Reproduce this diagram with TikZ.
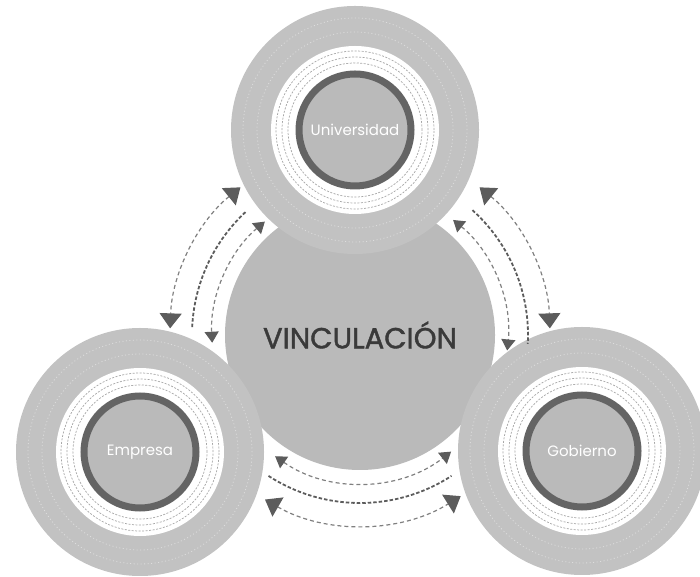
\documentclass[tikz,border=0pt]{standalone}
\usepackage{fontspec}
\setmainfont{Poppins}
\newfontfamily\hubfont{Poppins}[FakeBold=1.4]
\usetikzlibrary{arrows.meta}
\usetikzlibrary{calc}
\usetikzlibrary{positioning}
\definecolor{ringgray}{RGB}{194,194,194}
\definecolor{coregray}{RGB}{186,186,186}
\definecolor{rimgray}{RGB}{100,100,100}
\definecolor{linegray}{RGB}{128,128,128}
\definecolor{tipgray}{RGB}{92,92,92}
\definecolor{textgray}{RGB}{58,58,58}
\tikzset{
actor/.style={ % Outer grey disc of each actor
circle,
fill=ringgray,
minimum size=248pt,
inner sep=0pt},
core/.style={ % Inner disc with the dark rim
circle,
draw=rimgray,
line width=7pt,
fill=coregray,
minimum size=112pt,
inner sep=0pt,
text=white,
font=\fontsize{15}{15}\selectfont},
hub/.style={ % Central disc
circle,
fill=coregray,
minimum size=270pt,
inner sep=0pt,
text=textgray,
font=\hubfont\fontsize{29}{29}\selectfont},
fineline/.style={draw=linegray!70, line width=.7pt, dash pattern=on 2pt off 1.5pt},
texture/.style={draw=white, opacity=.45, line width=.8pt, dash pattern=on 1pt off 2.5pt},
link/.style={draw=linegray, line width=1.2pt, dash pattern=on 4pt off 3pt},
midlink/.style={draw=tipgray, line width=1.8pt, dash pattern=on 3.5pt off 2pt},
bigtip/.tip={Triangle[width=22pt,length=15pt,fill=tipgray,color=tipgray]},
smalltip/.tip={Triangle[width=14pt,length=11pt,fill=tipgray,color=tipgray]}
}

\begin{document}
\begin{tikzpicture}[x=1pt,y=1pt]
\useasboundingbox (0,0) rectangle (700,577);
% central disc first, the actors lie over it
\node[hub] (vinc) at (360,242) {VINCULACIÓN};
\node[actor] (univ) at (355,447) {};
\node[actor] (empresa) at (140,125) {};
\node[actor] (gobierno) at (582,126) {};
\foreach \a in {univ,empresa,gobierno}{
  \draw[texture] (\a.center) circle[radius=112pt];
  \draw[texture] (\a.center) circle[radius=98pt];
  \fill[white] (\a.center) circle[radius=84pt];
  \foreach \r in {67,73,79}
    \draw[fineline] (\a.center) circle[radius=\r pt];
}
\node[core] (univ-c) at (univ) {Universidad};
\node[core] (empresa-c) at (empresa) {Empresa};
\node[core] (gobierno-c) at (gobierno) {Gobierno};

% arc ends, measured round the central disc
\coordinate (ue-o) at ($(vinc)+(129:190pt)$);
\coordinate (ue-m) at ($(vinc)+(133:168pt)$);
\coordinate (ue-i) at ($(vinc)+(130:148pt)$);
\coordinate (ug-o) at ($(vinc)+(51:190pt)$);
\coordinate (ug-m) at ($(vinc)+(48:168pt)$);
\coordinate (ug-i) at ($(vinc)+(51:148pt)$);
\coordinate (eg-o) at ($(vinc)+(240:190pt)$);
\coordinate (eg-m) at ($(vinc)+(237:168pt)$);
\coordinate (eg-i) at ($(vinc)+(235:148pt)$);

% Universidad -- Empresa
\draw[link, bigtip-bigtip] (ue-o) arc[start angle=129, end angle=178, radius=190pt];
\draw[midlink] (ue-m) arc[start angle=133, end angle=178, radius=168pt];
\draw[link, smalltip-smalltip] (ue-i) arc[start angle=130, end angle=183, radius=148pt];
% Universidad -- Gobierno
\draw[link, bigtip-bigtip] (ug-o) arc[start angle=51, end angle=2, radius=190pt];
\draw[midlink] (ug-m) arc[start angle=48, end angle=-3, radius=168pt];
\draw[link, smalltip-smalltip] (ug-i) arc[start angle=51, end angle=-6, radius=148pt];
% Empresa -- Gobierno
\draw[link, bigtip-bigtip] (eg-o) arc[start angle=240, end angle=302, radius=190pt];
\draw[midlink] (eg-m) arc[start angle=237, end angle=303, radius=168pt];
\draw[link, smalltip-smalltip] (eg-i) arc[start angle=235, end angle=308, radius=148pt];
\end{tikzpicture}
\end{document}
